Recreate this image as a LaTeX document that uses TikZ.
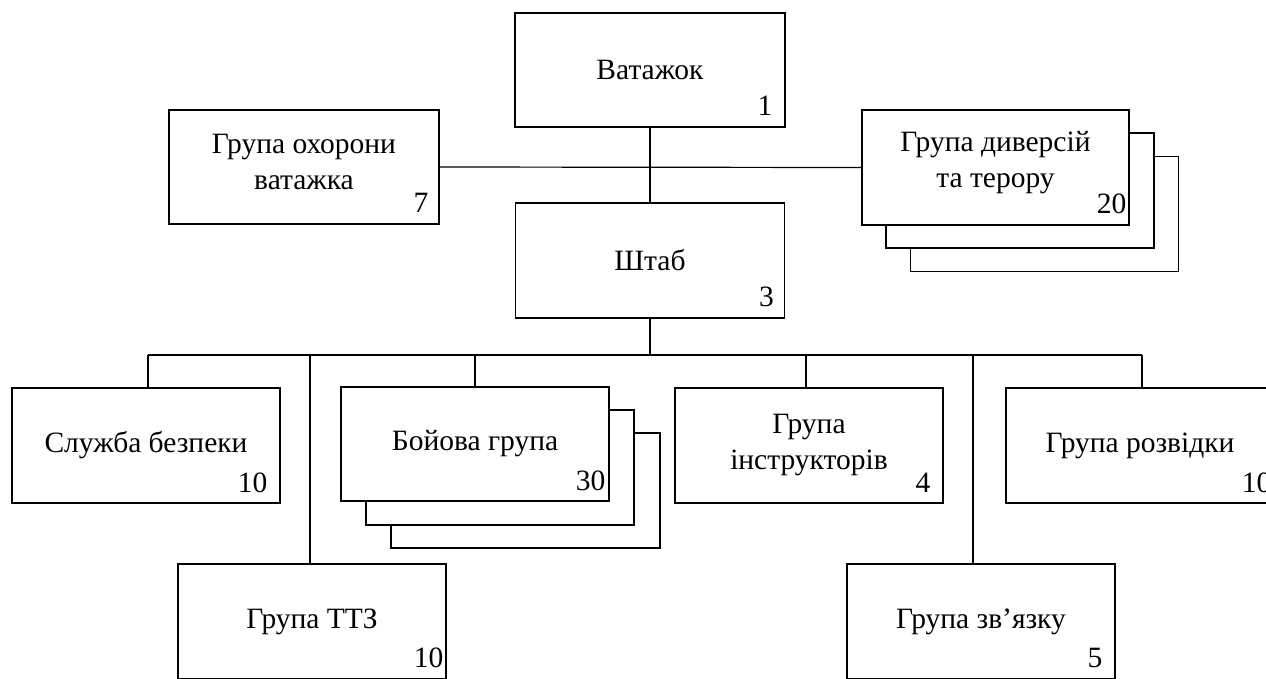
\documentclass[tikz,border=0pt]{standalone}
\usepackage{fontspec}
\setmainfont{Liberation Serif}
\begin{document}
\begin{tikzpicture}[x=1pt,y=-1pt,
  txt/.style={font=\fontsize{29.5}{36}\selectfont},
  box/.style={draw, line width=1.2pt, fill=white, minimum width=268pt, minimum height=115pt,
    inner sep=0pt, align=center, txt},
  two/.style={label={[txt, align=center, inner sep=0pt, yshift=5pt]center:#1}},
  num/.style={inner sep=0pt, anchor=base east, txt},
  conn/.style={line width=1.2pt}]
\useasboundingbox (0,0) rectangle (1266,678);
\fill[white] (0,0) rectangle (1266,678);
\begin{scope}
\clip (0,0) rectangle (1266,678);
% top
\node[box, minimum width=270pt, minimum height=114pt] (vat) at (650,70) {Ватажок};
\node[num] (vatn) at ([xshift=-13pt,yshift=12pt]vat.south east) {1};
\node[box, minimum width=270pt, minimum height=114pt, two={Група охорони\\ватажка}] (ohor) at (304,167) {};
\node[num] (ohorn) at ([xshift=-11pt,yshift=12pt]ohor.south east) {7};
\node[box, minimum width=269pt, minimum height=115pt] (shtab) at (650,260.5) {Штаб};
\node[num] (shtabn) at ([xshift=-11pt,yshift=12pt]shtab.south east) {3};
% stacked: диверсій
\node[box, minimum width=268pt] (dyv3) at (1044.5,214) {};
\node[box, minimum width=268pt] (dyv2) at (1020,190.5) {};
\node[box, minimum width=267pt, two={Група диверсій\\та терору}] (dyv) at (995.5,167.5) {};
\node[num] (dyvn) at ([xshift=-3pt,yshift=12pt]dyv.south east) {20};
% second row
\node[box] (sluzh) at (146,445.5) {Служба безпеки};
\node[num] (sluzhn) at ([xshift=-13pt,yshift=11pt]sluzh.south east) {10};
\node[box, minimum width=269pt] (boy3) at (525.5,490.5) {};
\node[box] (boy2) at (500,467.5) {};
\node[box, minimum height=114pt] (boy) at (475,444) {Бойова група};
\node[num] (boyn) at ([xshift=-4pt,yshift=11pt]boy.south east) {30};
\node[box] (instr) at (809,445.5) {Група\\інструкторів};
\node[num] (instrn) at ([xshift=-13pt,yshift=11pt]instr.south east) {4};
\node[box] (rozv) at (1140,445.5) {Група розвідки};
\node[num] (rozvn) at ([xshift=-3pt,yshift=11pt]rozv.south east) {10};
% bottom row
\node[box] (ttz) at (312,621.5) {Група ТТЗ};
\node[num] (ttzn) at ([xshift=-3pt,yshift=12pt]ttz.south east) {10};
\node[box] (zv) at (981,621.5) {Група зв’язку};
\node[num] (zvn) at ([xshift=-13pt,yshift=12pt]zv.south east) {5};
% connectors
\draw[conn] (vat.south) -- (shtab.north);
\draw[conn] (ohor.east) -- (dyv.west);
\coordinate (bus) at (650,355);
\coordinate (b1) at (148,355);
\coordinate (b2) at (310,355);
\coordinate (b3) at (475,355);
\coordinate (b4) at (806,355);
\coordinate (b5) at (973,355);
\coordinate (b6) at (1142,355);
\draw[conn] (shtab.south) -- (bus);
\draw[conn] (b1) -- (b6);
\draw[conn] (b1) -- (b1 |- sluzh.north);
\draw[conn] (b2) -- (b2 |- ttz.north);
\draw[conn] (b3) -- (b3 |- boy.north);
\draw[conn] (b4) -- (b4 |- instr.north);
\draw[conn] (b5) -- (b5 |- zv.north);
\draw[conn] (b6) -- (b6 |- rozv.north);
\end{scope}
\end{tikzpicture}
\end{document}
